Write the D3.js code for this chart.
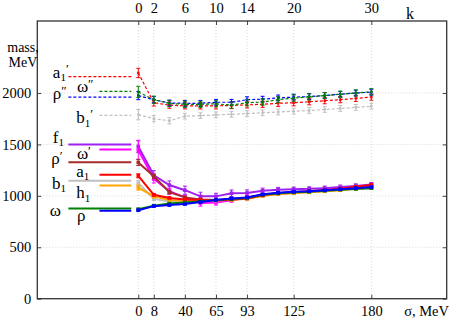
<!DOCTYPE html>
<html>
<head>
<meta charset="utf-8">
<script src="https://cdn.jsdelivr.net/npm/d3@7"></script>
<style>
body { margin: 0; background: #fff; }
#chart text { font-family: "Liberation Serif", "Times New Roman", "DejaVu Serif", serif !important; fill: #000; }
</style>
</head>
<body>
<svg id="chart" width="457" height="320" font-family="Liberation Serif"></svg>
<script>
// ---- data ----
var kVals = [0, 2, 4, 6, 8, 10, 12, 14, 16, 18, 20, 22, 24, 26, 28, 30];
var kTicks = [0, 2, 6, 10, 14, 20, 30];
var sigmaTicks = [0, 8, 40, 65, 93, 125, 180];
var massTicks = [0, 500, 1000, 1500, 2000];

// excited states (dashed)
var a1pMass  = [2195, 1905, 1882, 1875, 1875, 1875, 1878, 1885, 1890, 1900, 1905, 1915, 1925, 1935, 1948, 1960];
var a1pErr   = [45, 32, 30, 30, 30, 30, 30, 30, 30, 30, 30, 30, 30, 30, 30, 30];
var om2Mass  = [2010, 1935, 1898, 1890, 1890, 1895, 1882, 1905, 1912, 1935, 1950, 1962, 1975, 1988, 2000, 2012];
var om2Err   = [55, 35, 30, 30, 30, 30, 30, 30, 30, 30, 30, 30, 30, 30, 30, 30];
var rho2Mass = [1975, 1935, 1903, 1900, 1900, 1910, 1910, 1935, 1940, 1952, 1960, 1965, 1975, 1988, 2000, 2008];
var rho2Err  = [40, 30, 28, 28, 28, 28, 28, 28, 28, 28, 28, 28, 28, 28, 28, 28];
var b1pMass  = [1790, 1750, 1730, 1775, 1780, 1787, 1793, 1800, 1808, 1815, 1823, 1830, 1840, 1850, 1860, 1872];
var b1pErr   = [50, 30, 30, 28, 28, 28, 28, 28, 28, 28, 28, 28, 28, 28, 28, 28];

// ground states (solid)
var f1Mass   = [1480, 1200, 1105, 1055, 995, 995, 1025, 1028, 1050, 1060, 1065, 1068, 1075, 1085, 1097, 1110];
var f1Err    = [60, 45, 40, 40, 40, 30, 32, 30, 25, 22, 20, 20, 20, 20, 20, 20];
var om1Mass  = [1445, 1165, 1045, 985, 930, 935, 958, 985, 1010, 1025, 1035, 1045, 1055, 1068, 1082, 1100];
var om1Err   = [90, 40, 30, 22, 30, 25, 20, 20, 15, 15, 15, 15, 15, 15, 15, 15];
var rho1Mass = [1325, 1190, 1035, 985, 965, 960, 965, 975, 1003, 1020, 1030, 1040, 1050, 1062, 1075, 1090];
var rho1Err  = [30, 20, 15, 12, 12, 12, 12, 12, 10, 10, 10, 10, 10, 10, 10, 10];
var b1Mass   = [1125, 970, 945, 945, 948, 955, 962, 972, 1000, 1018, 1028, 1035, 1045, 1055, 1065, 1075];
var b1Err    = [25, 15, 12, 10, 10, 10, 10, 10, 10, 10, 10, 10, 10, 10, 10, 10];
var h1Mass   = [1080, 995, 960, 950, 950, 955, 962, 972, 1000, 1018, 1028, 1035, 1045, 1055, 1068, 1080];
var h1Err    = [25, 15, 12, 10, 10, 10, 10, 10, 10, 10, 10, 10, 10, 10, 10, 10];
var a1Mass   = [1195, 1010, 980, 965, 960, 958, 965, 975, 1005, 1025, 1035, 1045, 1055, 1070, 1088, 1105];
var a1Err    = [20, 12, 10, 10, 10, 10, 10, 10, 10, 10, 10, 10, 10, 10, 10, 10];
var omMass   = [870, 905, 925, 935, 945, 960, 970, 980, 1010, 1025, 1035, 1040, 1050, 1060, 1068, 1075];
var omErr    = [10, 8, 8, 8, 8, 8, 8, 8, 8, 8, 8, 8, 8, 8, 8, 8];
var rhoMass  = [860, 900, 910, 920, 940, 960, 975, 985, 1015, 1030, 1040, 1045, 1055, 1065, 1075, 1085];
var rhoErr   = [10, 8, 8, 8, 8, 8, 8, 8, 8, 8, 8, 8, 8, 8, 8, 8];

// reference levels drawn on the left, with their names
var stateBase  = ["a", "ω", "ρ", "b", "f", "ω", "ρ", "a", "b", "h", "ω", "ρ"];
var stateSub   = ["1", "", "", "1", "1", "", "", "1", "1", "1", "", ""];
var statePrime = ["′", "″", "″", "′", "", "′", "′", "", "", "", "", ""];
var expMass    = [2160, 2015, 1960, 1783, 1499, 1450, 1327, 1204, 1146, 1101, 878, 854];

// ---- layout / style ----
var plot = {l: 37.3, r: 446.7, t: 21, b: 298.7};
var serif = '"Liberation Serif", "Times New Roman", serif';
var colors = ["#ff0000", "#008000", "#0000ff", "#c0c0c0", "#a020f0", "#ff00ff",
              "#a52a2a", "#ff0000", "#c0c0c0", "#ffa500", "#008000", "#0000ff"];
var dashed = [true, true, true, true, false, false, false, false, false, false, false, false];
var longLine = [true, false, true, false, true, false, true, false, true, false, true, false];
// label anchor (k, mass) for the names on the left
var labelAt = [[-11.0, 2150], [-7.9, 2010], [-11.0, 1946], [-8.0, 1704],
               [-11.0, 1514], [-7.9, 1360], [-11.2, 1310], [-8.0, 1188],
               [-11.1, 1067], [-8.0, 975], [-11.4, 805], [-7.9, 755]];

var series = [
    {m: b1pMass, e: b1pErr, c: 3},
    {m: a1pMass, e: a1pErr, c: 0},
    {m: rho2Mass, e: rho2Err, c: 2},
    {m: om2Mass, e: om2Err, c: 1},
    {m: f1Mass, e: f1Err, c: 4},
    {m: om1Mass, e: om1Err, c: 5},
    {m: rho1Mass, e: rho1Err, c: 6},
    {m: b1Mass, e: b1Err, c: 8},
    {m: h1Mass, e: h1Err, c: 9},
    {m: a1Mass, e: a1Err, c: 7},
    {m: omMass, e: omErr, c: 10},
    {m: rhoMass, e: rhoErr, c: 11}
];

var svg = d3.select('#chart');

var x = d3.scaleLinear().domain([-13, 39.7]).range([plot.l, plot.r]);
var y = d3.scaleLinear().domain([0, 2700]).range([plot.b, plot.t]);

// grid
svg.append('g').selectAll('line')
    .data(kTicks)
    .enter().append('line')
    .attr('x1', d => x(d)).attr('x2', d => x(d))
    .attr('y1', plot.t).attr('y2', plot.b)
    .style('stroke', '#d8d8d8').style('stroke-dasharray', '1,2');
svg.append('g').selectAll('line')
    .data(massTicks.slice(1))
    .enter().append('line')
    .attr('x1', plot.l).attr('x2', plot.r)
    .attr('y1', d => y(d)).attr('y2', d => y(d))
    .style('stroke', '#d8d8d8').style('stroke-dasharray', '1,2');

// axes
function styleAxis(g) {
    g.attr('font-family', serif);
    g.select('.domain').remove();
    g.selectAll('.tick line').style('stroke', '#444');
    g.selectAll('.tick text').style('font-size', '14.5px').style('font-family', serif);
}
svg.append('g')
    .attr('transform', 'translate(0,' + plot.b + ')')
    .call(d3.axisBottom(x).tickValues(kTicks).tickSizeInner(-4).tickSizeOuter(0).tickPadding(7)
        .tickFormat((d, i) => sigmaTicks[i]))
    .call(styleAxis);
svg.append('g')
    .attr('transform', 'translate(0,' + plot.t + ')')
    .call(d3.axisTop(x).tickValues(kTicks).tickSizeInner(-4).tickSizeOuter(0).tickPadding(8.5)
        .tickFormat(d3.format('d')))
    .call(styleAxis);
svg.append('g')
    .attr('transform', 'translate(' + plot.l + ',0)')
    .call(d3.axisLeft(y).tickValues(massTicks).tickSizeInner(-4).tickSizeOuter(0).tickPadding(6)
        .tickFormat(d3.format('d')))
    .call(styleAxis);
svg.append('g')
    .attr('transform', 'translate(' + plot.r + ',0)')
    .call(d3.axisRight(y).tickValues(massTicks).tickSizeInner(-4).tickSizeOuter(0).tickFormat(''))
    .call(styleAxis);

// frame
svg.append('rect')
    .attr('x', plot.l).attr('y', plot.t)
    .attr('width', plot.r - plot.l).attr('height', plot.b - plot.t)
    .style('fill', 'none').style('stroke', '#333').style('stroke-width', 1.3);

// axis titles
function title(tx, ty, anchor, size, str) {
    svg.append('text').attr('x', tx).attr('y', ty).attr('text-anchor', anchor)
        .style('font-family', serif).style('font-size', size + 'px').text(str);
}
title(23, 52, 'middle', 14, 'mass,');
title(23, 67, 'middle', 14, 'MeV');
title(449, 316, 'end', 14.5, 'σ, MeV');
title(410, 19, 'middle', 16, 'k');

// reference levels
svg.append('g').selectAll('line')
    .data(expMass)
    .enter().append('line')
    .attr('x1', (d, i) => x(longLine[i] ? -9.0 : -5.0))
    .attr('x2', x(-0.9))
    .attr('y1', d => y(d)).attr('y2', d => y(d))
    .style('stroke', (d, i) => colors[i])
    .style('stroke-width', (d, i) => dashed[i] ? 1.2 : 2)
    .style('stroke-dasharray', (d, i) => dashed[i] ? '3,2' : null);

var labels = svg.append('g').selectAll('text')
    .data(stateBase)
    .enter().append('text')
    .attr('x', (d, i) => x(labelAt[i][0]))
    .attr('y', (d, i) => y(labelAt[i][1]))
    .style('font-family', serif)
    .style('font-size', '17px');
labels.append('tspan').text(d => d);
labels.append('tspan')
    .attr('dy', 3.5).style('font-size', '11px')
    .text((d, i) => stateSub[i]);
labels.append('tspan')
    .attr('dy', (d, i) => stateSub[i] ? -8.5 : -4)
    .style('font-size', '13px')
    .text((d, i) => statePrime[i]);

// lattice series
var line = d3.line().x((d, i) => x(kVals[i])).y(d => y(d));

series.forEach(function (s) {
    var col = colors[s.c];
    var isDash = dashed[s.c];
    var g = svg.append('g');
    g.append('path')
        .attr('d', line(s.m))
        .style('fill', 'none').style('stroke', col)
        .style('stroke-width', isDash ? 1.2 : 2)
        .style('stroke-dasharray', isDash ? '3,2' : null);
    var bars = g.selectAll('.bar').data(s.m).enter().append('g');
    bars.append('line')
        .attr('x1', (d, i) => x(kVals[i])).attr('x2', (d, i) => x(kVals[i]))
        .attr('y1', (d, i) => y(d - s.e[i])).attr('y2', (d, i) => y(d + s.e[i]))
        .style('stroke', col).style('stroke-width', 1);
    [-1, 1].forEach(function (sg) {
        bars.append('line')
            .attr('x1', (d, i) => x(kVals[i]) - 2).attr('x2', (d, i) => x(kVals[i]) + 2)
            .attr('y1', (d, i) => y(d + sg * s.e[i])).attr('y2', (d, i) => y(d + sg * s.e[i]))
            .style('stroke', col).style('stroke-width', 1);
    });
    var sz = isDash ? 2.4 : 3.6;
    bars.append('rect')
        .attr('x', (d, i) => x(kVals[i]) - sz / 2).attr('y', d => y(d) - sz / 2)
        .attr('width', sz).attr('height', sz)
        .style('fill', col);
});
</script>
</body>
</html>
